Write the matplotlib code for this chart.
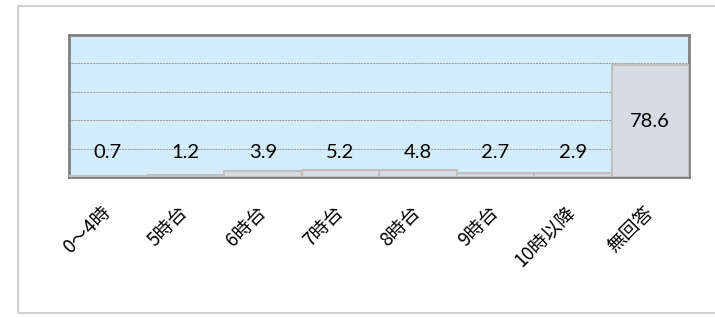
import matplotlib
matplotlib.use('Agg')
import matplotlib.pyplot as plt
from matplotlib.patches import Rectangle

# data
categories = ['0～4時', '5時台', '6時台', '7時台', '8時台', '9時台', '10時以降', '無回答']
values = [0.7, 1.2, 3.9, 5.2, 4.8, 2.7, 2.9, 78.6]

plt.rcParams['font.family'] = ['Noto Sans CJK JP', 'DejaVu Sans']

fig = plt.figure(figsize=(7.15, 3.17), dpi=100)

# outer chart frame
fig.patches.append(Rectangle((18 / 715, 4 / 317), 1.0, 307 / 317, transform=fig.transFigure,
                             fill=False, edgecolor='#c8c8c8', linewidth=1.2))

ax = fig.add_axes([69 / 715, 140 / 317, 620 / 715, 142 / 317])
ax.set_facecolor('#d3edfc')

x = range(len(categories))
ax.bar(x, values, width=1.0, color='#d6dce4', edgecolor='#bfbfbf', linewidth=1.5, zorder=3)

ax.set_xlim(-0.5, len(categories) - 0.5)
ax.set_ylim(0, 100)
ax.set_yticks([20, 40, 60, 80])
ax.yaxis.grid(True, linestyle=(0, (2, 1)), color='#999999', linewidth=0.7, zorder=1)
ax.tick_params(axis='y', left=False, labelleft=False)
ax.tick_params(axis='x', bottom=False, pad=20)

for s in ax.spines.values():
    s.set_color('#808080')
    s.set_linewidth(2)

# data labels
for i, v in enumerate(values):
    ax.text(i, max(v / 2, 17), f'{v:.1f}', ha='center', va='center',
            fontsize=14.5, family=['Lato', 'DejaVu Sans'], color='#000000', zorder=4)

ax.set_xticks(list(x))
ax.set_xticklabels(categories, rotation=45, ha='right', va='center',
                   rotation_mode='anchor', fontsize=13.5)

plt.savefig('out.png', dpi=100)
